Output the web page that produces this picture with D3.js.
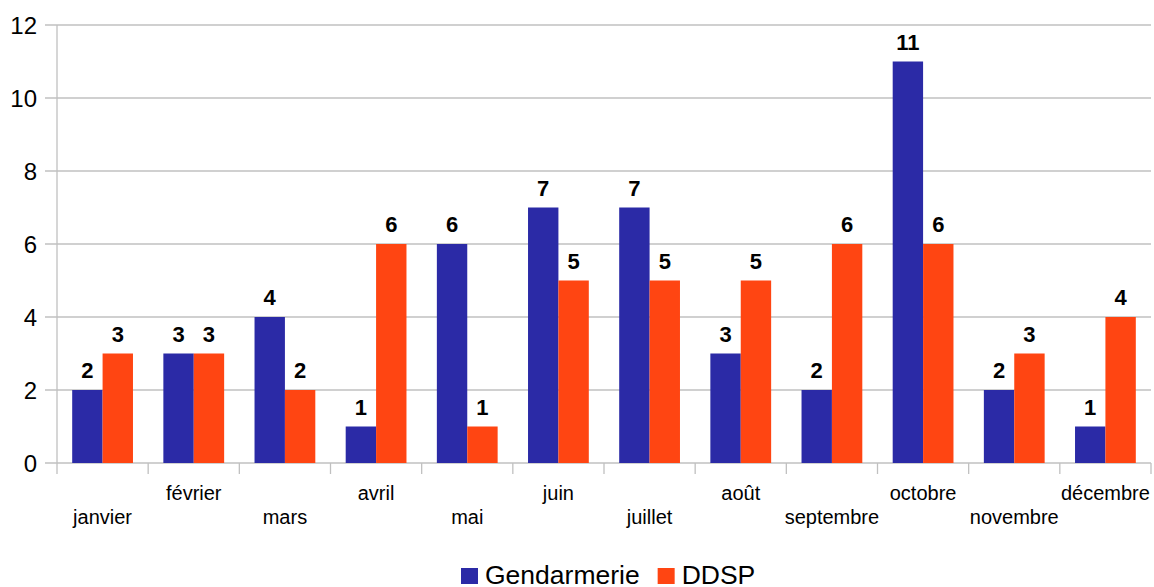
<!DOCTYPE html>
<html>
<head>
<meta charset="utf-8">
<script src="https://cdn.jsdelivr.net/npm/d3@7"></script>
<style>
  body { margin: 0; background: #fff; }
  text { font-family: "Liberation Sans", Arial, sans-serif; fill: #000; }
</style>
</head>
<body>
<div id="chart"></div>
<script>
// data
var months = ["janvier", "février", "mars", "avril", "mai", "juin", "juillet", "août", "septembre", "octobre", "novembre", "décembre"];
var gendarmerie = [2, 3, 4, 1, 6, 7, 7, 3, 2, 11, 2, 1];
var ddsp = [3, 3, 2, 6, 1, 5, 5, 5, 6, 6, 3, 4];
var seriesNames = ["Gendarmerie", "DDSP"];
var seriesColors = ["#2b2aa6", "#ff4512"];
var yTicks = [0, 2, 4, 6, 8, 10, 12];

var width = 1154, height = 587;
var margin = {top: 25, right: 3, bottom: 124, left: 57};
var w = width - margin.left - margin.right,
    h = height - margin.top - margin.bottom;

var svg = d3.select("#chart").append("svg")
    .attr("width", width)
    .attr("height", height);

var g = svg.append("g")
    .attr("transform", "translate(" + margin.left + "," + margin.top + ")");

var x = d3.scaleBand().domain(months).range([0, w]).paddingInner(0).paddingOuter(0);
var x1 = d3.scaleBand().domain(seriesNames).range([0, x.bandwidth()]).paddingOuter(0.5).paddingInner(0);
var y = d3.scaleLinear().domain([0, 12]).range([h, 0]);

// gridlines
g.selectAll(".grid")
    .data(yTicks)
    .enter().append("line")
    .attr("x1", -12)
    .attr("x2", w)
    .attr("y1", function(d) { return y(d); })
    .attr("y2", function(d) { return y(d); })
    .attr("stroke", "#c0c0c0")
    .attr("stroke-width", 1.3);

// y labels
g.selectAll(".ylab")
    .data(yTicks)
    .enter().append("text")
    .attr("x", -20)
    .attr("y", function(d) { return y(d); })
    .attr("dy", "0.36em")
    .attr("text-anchor", "end")
    .style("font-size", "24px")
    .text(function(d) { return d; });

// vertical axis line + category ticks
g.append("line")
    .attr("x1", 0).attr("x2", 0)
    .attr("y1", 0).attr("y2", h + 11)
    .attr("stroke", "#c0c0c0").attr("stroke-width", 1.3);

var bounds = months.map(function(m) { return x(m) + x.bandwidth(); });
g.selectAll(".xtick")
    .data(bounds)
    .enter().append("line")
    .attr("x1", function(d) { return d; })
    .attr("x2", function(d) { return d; })
    .attr("y1", h)
    .attr("y2", h + 11)
    .attr("stroke", "#c0c0c0").attr("stroke-width", 1.3);

// bars
var series = [gendarmerie, ddsp];
series.forEach(function(vals, si) {
    g.selectAll(".bar" + si)
        .data(vals)
        .enter().append("rect")
        .attr("x", function(d, i) { return x(months[i]) + x1(seriesNames[si]); })
        .attr("y", function(d) { return y(d); })
        .attr("width", x1.bandwidth())
        .attr("height", function(d) { return h - y(d); })
        .attr("fill", seriesColors[si]);

    g.selectAll(".val" + si)
        .data(vals)
        .enter().append("text")
        .attr("x", function(d, i) { return x(months[i]) + x1(seriesNames[si]) + x1.bandwidth() / 2; })
        .attr("y", function(d) { return y(d) - 12; })
        .attr("text-anchor", "middle")
        .style("font-size", "22px")
        .style("font-weight", "bold")
        .text(function(d) { return d; });
});

// month labels, staggered
g.selectAll(".xlab")
    .data(months)
    .enter().append("text")
    .attr("x", function(d) { return x(d) + x.bandwidth() / 2; })
    .attr("y", function(d, i) { return i % 2 === 0 ? h + 61 : h + 37; })
    .attr("text-anchor", "middle")
    .style("font-size", "20px")
    .text(function(d) { return d; });

// legend
var legend = svg.append("g");
var lx = 461;
seriesNames.forEach(function(name, i) {
    var item = legend.append("g");
    item.append("rect")
        .attr("x", 0).attr("y", 568)
        .attr("width", 17).attr("height", 16)
        .attr("fill", seriesColors[i]);
    var t = item.append("text")
        .attr("x", 24).attr("y", 584)
        .style("font-size", "26.5px")
        .text(name);
    item.attr("transform", "translate(" + lx + ",0)");
    lx += 24 + t.node().getComputedTextLength() + 18;
});
</script>
</body>
</html>
